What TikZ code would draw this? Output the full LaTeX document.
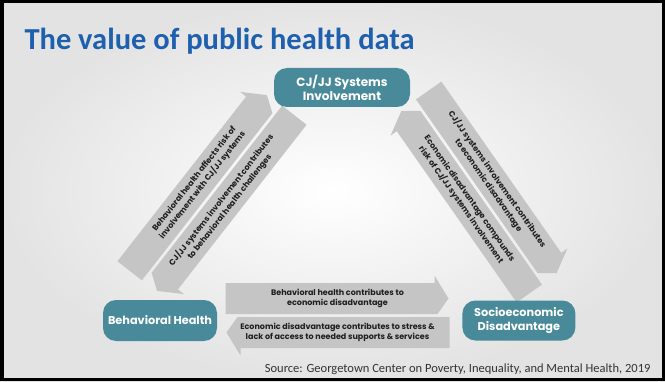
\documentclass[tikz,border=0pt]{standalone}
\usepackage{fontspec}
\setmainfont{Carlito}
\setsansfont{Poppins}
\usepackage{tikz}
\usetikzlibrary{positioning}

\definecolor{titleblue}{RGB}{30,96,174}
\definecolor{nodeteal}{RGB}{72,138,153}
\definecolor{bandgray}{RGB}{197,197,197}
\definecolor{bandink}{RGB}{30,30,30}

\tikzset{
  factorbox/.style={fill=nodeteal, rounded corners=13pt, text=white, align=center,
    font=\sffamily\bfseries\fontsize{11.3}{13.5}\selectfont, inner sep=0pt},
  bandtext/.style={text=bandink, align=center, inner sep=0pt,
    font=\sffamily\bfseries\fontsize{8}{10.5}\selectfont},
  band/.style={fill=bandgray}
}

% one pair of opposing half arrows along the x axis, then turned
\newcommand{\bandpair}[5]{%
  \begin{scope}[shift={#2}, rotate=#3]
    \fill[band] (-112,1.5) -- (100,1.5) -- (111,17) -- (97,40) -- (97,32.5) -- (-112,32.5) -- cycle;
    \fill[band] (112,-1.5) -- (-100,-1.5) -- (-111,-17) -- (-97,-40) -- (-97,-32.5) -- (112,-32.5) -- cycle;
    \node[bandtext, rotate=#3] (#1-fwd)  at (0,17)  {#4};
    \node[bandtext, rotate=#3] (#1-back) at (0,-17) {#5};
  \end{scope}}

\begin{document}
\begin{tikzpicture}[x=1pt,y=1pt]

  \shade[inner color=white, outer color=black!11] (0,0) rectangle (665,381);
  \useasboundingbox (0,0) rectangle (665,381);

  \node[anchor=base west, text=titleblue, font=\bfseries\fontsize{30.5}{32}\selectfont]
    (title) at (21,331) {The value of public health data};

  % Arrows
  \bandpair{bhse}{(337.5,65.5)}{0}{Behavioral health contributes to\\economic disadvantage}%
    {Economic disadvantage contributes to stress \&\\lack of access to needed supports \& services}
  \bandpair{bhcj}{(212,188)}{52}{Behavioral health affects risk of\\involvement with CJ/JJ systems}%
    {CJ/JJ systems involvement contributes\\to behavioral health challenges}
  \bandpair{secj}{(479,189)}{-55}{CJ/JJ systems involvement contributes\\to economic disadvantage}%
    {Economic disadvantage compounds\\risk of CJ/JJ systems involvement}

  % Nodes
  \node[factorbox, minimum width=114pt, minimum height=41pt] (bh) at (160,60.5) {Behavioral Health};
  \node[factorbox, minimum width=113pt, minimum height=40pt, right=245pt of bh] (se) {Socioeconomic\\Disadvantage};
  \node[factorbox, minimum width=136pt, minimum height=39pt, font=\sffamily\bfseries\fontsize{12}{14}\selectfont]
    (cj) at (342,293.5) {CJ/JJ Systems\\Involvement};

  % Source
  \node[anchor=base east, text=black!80, font=\fontsize{12.5}{14}\selectfont]
    (src) at (654,9) {Source: Georgetown Center on Poverty, Inequality, and Mental Health, 2019};

  \draw[line width=3.5pt] (1.75,1.75) rectangle (663.25,379.25);

\end{tikzpicture}
\end{document}
